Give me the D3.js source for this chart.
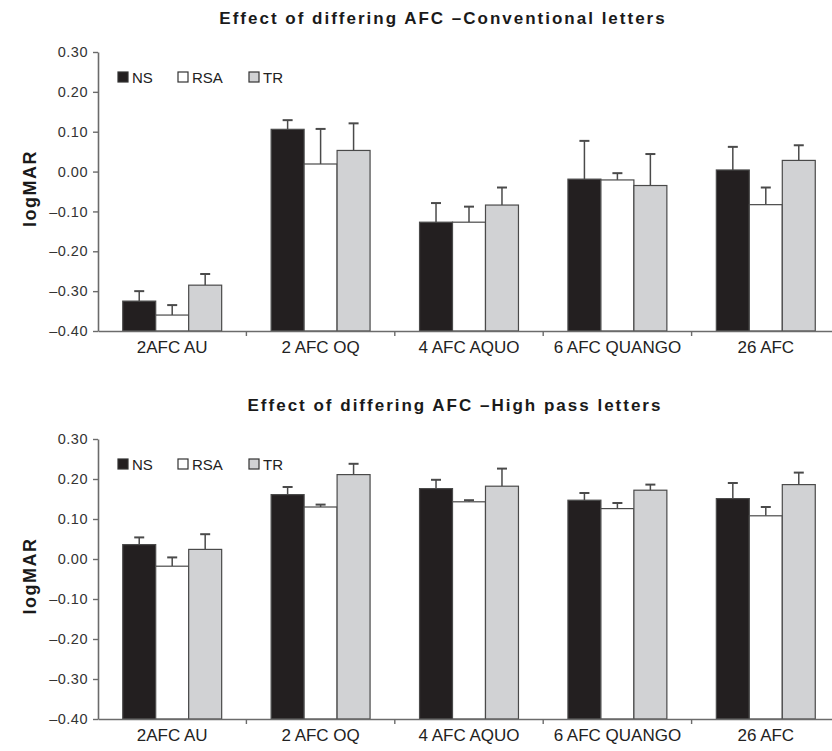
<!DOCTYPE html>
<html lang="en">
<head>
    <meta charset="UTF-8">
    <title>Effect of differing AFC</title>
    <script src="https://cdn.jsdelivr.net/npm/d3@7"></script>
    <style>
        body { margin: 0; background: #fff; }
        svg { font-family: "Liberation Sans", Arial, Helvetica, sans-serif; }
    </style>
</head>
<body>
<svg id="scene" width="832" height="751" viewBox="0 0 832 751"></svg>
<script>
    // categories et series
    let categories = ['2AFC AU', '2 AFC OQ', '4 AFC AQUO', '6 AFC QUANGO', '26 AFC'];
    let series = ['NS', 'RSA', 'TR'];
    let ticksY = [-0.40, -0.30, -0.20, -0.10, 0.00, 0.10, 0.20, 0.30];

    // lettres conventionnelles (moyenne + erreur)
    let convNS = [-0.325, 0.106, -0.127, -0.019, 0.004];
    let convNSerr = [0.025, 0.023, 0.048, 0.096, 0.058];
    let convRSA = [-0.360, 0.019, -0.127, -0.021, -0.083];
    let convRSAerr = [0.025, 0.088, 0.039, 0.017, 0.043];
    let convTR = [-0.285, 0.053, -0.084, -0.035, 0.028];
    let convTRerr = [0.028, 0.068, 0.044, 0.079, 0.038];

    // lettres passe-haut
    let hpNS = [0.036, 0.161, 0.176, 0.147, 0.151];
    let hpNSerr = [0.018, 0.019, 0.022, 0.018, 0.039];
    let hpRSA = [-0.018, 0.130, 0.143, 0.126, 0.108];
    let hpRSAerr = [0.022, 0.006, 0.004, 0.014, 0.022];
    let hpTR = [0.024, 0.211, 0.182, 0.172, 0.186];
    let hpTRerr = [0.038, 0.027, 0.044, 0.014, 0.030];

    let couleurs = {NS: '#231f20', RSA: '#ffffff', TR: '#d1d2d4'};

    let scene = d3.select('#scene');
    let gauche = 98, droite = 840;
    // format avec un tiret long pour les negatifs
    let fmt = v => (v < -0.001 ? '\u2013' : '') + d3.format('.2f')(Math.abs(v));

    function graphe(titre, titreX, valeurs, erreurs, haut, bas) {
        let g = scene.append('g');

        let x0 = d3.scaleBand().domain(categories).range([gauche, droite]).paddingInner(0).paddingOuter(0);
        let x1 = d3.scaleBand().domain(series).range([0, x0.bandwidth()]).paddingInner(0).paddingOuter(0.75);
        let y = d3.scaleLinear().domain([-0.4, 0.3]).range([bas, haut]);

        // titre
        g.append('text')
            .attr('x', titreX)
            .attr('y', haut - 28)
            .attr('text-anchor', 'middle')
            .attr('font-size', 17)
            .attr('font-weight', 'bold')
            .attr('letter-spacing', 2)
            .attr('fill', '#1a1a1a')
            .text(titre);

        // barres
        let donnees = [];
        categories.forEach((c, i) => {
            series.forEach(s => {
                donnees.push({c: c, s: s, v: valeurs[s][i], e: erreurs[s][i]});
            });
        });

        let grp = g.selectAll('g.barre').data(donnees).enter()
            .append('g').attr('class', 'barre')
            .attr('transform', d => 'translate(' + (x0(d.c) + x1(d.s)) + ',0)');

        // erreur (vers le haut seulement)
        grp.append('line')
            .attr('x1', x1.bandwidth() / 2)
            .attr('x2', x1.bandwidth() / 2)
            .attr('y1', d => y(d.v))
            .attr('y2', d => y(d.v + d.e))
            .attr('stroke', '#4a4a4a')
            .attr('stroke-width', 1.5);
        grp.append('line')
            .attr('x1', x1.bandwidth() / 2 - 5)
            .attr('x2', x1.bandwidth() / 2 + 5)
            .attr('y1', d => y(d.v + d.e))
            .attr('y2', d => y(d.v + d.e))
            .attr('stroke', '#4a4a4a')
            .attr('stroke-width', 2);

        grp.append('rect')
            .attr('x', 0)
            .attr('y', d => y(d.v))
            .attr('width', x1.bandwidth())
            .attr('height', d => y(-0.4) - y(d.v))
            .attr('fill', d => couleurs[d.s])
            .attr('stroke', '#4a4a4a')
            .attr('stroke-width', 1.2);

        // axe Y
        let axeY = g.append('g')
            .attr('transform', 'translate(' + gauche + ',0)')
            .call(d3.axisLeft(y).tickValues(ticksY).tickFormat(fmt)
                .tickSize(5).tickSizeOuter(0).tickPadding(5));
        axeY.select('.domain').attr('stroke', '#6b6b6b').attr('stroke-width', 1.6);
        axeY.selectAll('.tick line').attr('stroke', '#6b6b6b').attr('stroke-width', 1.4);
        axeY.selectAll('.tick text')
            .attr('font-size', 14.5)
            .attr('letter-spacing', 0.5)
            .attr('fill', '#333')
            .attr('font-family', '"Liberation Sans", Arial, sans-serif');

        // axe X : ligne + graduations entre categories
        let axeX = g.append('g')
            .attr('transform', 'translate(0,' + y(-0.4) + ')')
            .call(d3.axisBottom(x0).tickSize(0).tickPadding(10).tickSizeOuter(0));
        axeX.select('.domain').attr('stroke', '#6b6b6b').attr('stroke-width', 1.6);
        axeX.selectAll('.tick text')
            .attr('font-size', 17)
            .attr('fill', '#222')
            .attr('font-family', '"Liberation Sans", Arial, sans-serif');
        axeX.selectAll('line.sep').data(categories.slice(1)).enter()
            .append('line').attr('class', 'sep')
            .attr('x1', d => x0(d)).attr('x2', d => x0(d))
            .attr('y1', 0).attr('y2', 5)
            .attr('stroke', '#6b6b6b').attr('stroke-width', 1.4);

        // titre axe Y
        g.append('text')
            .attr('transform', 'translate(36,' + ((haut + bas) / 2 - 3) + ') rotate(-90)')
            .attr('text-anchor', 'middle')
            .attr('font-size', 18)
            .attr('font-weight', 'bold')
            .attr('letter-spacing', 1.5)
            .attr('fill', '#1a1a1a')
            .text('logMAR');

        // legende
        let leg = g.append('g').attr('transform', 'translate(0,' + (haut + 25) + ')');
        let posLeg = [118, 178, 249];
        series.forEach((s, i) => {
            leg.append('rect')
                .attr('x', posLeg[i]).attr('y', -5)
                .attr('width', 10).attr('height', 10)
                .attr('fill', couleurs[s])
                .attr('stroke', '#333').attr('stroke-width', 1.2);
            leg.append('text')
                .attr('x', posLeg[i] + 14).attr('y', 5.5)
                .attr('font-size', 15)
                .attr('fill', '#222')
                .text(s);
        });
    }

    graphe('Effect of differing AFC \u2013Conventional letters', 443,
        {NS: convNS, RSA: convRSA, TR: convTR},
        {NS: convNSerr, RSA: convRSAerr, TR: convTRerr}, 52, 331);

    graphe('Effect of differing AFC \u2013High pass letters', 455,
        {NS: hpNS, RSA: hpRSA, TR: hpTR},
        {NS: hpNSerr, RSA: hpRSAerr, TR: hpTRerr}, 439, 719);
</script>
</body>
</html>
